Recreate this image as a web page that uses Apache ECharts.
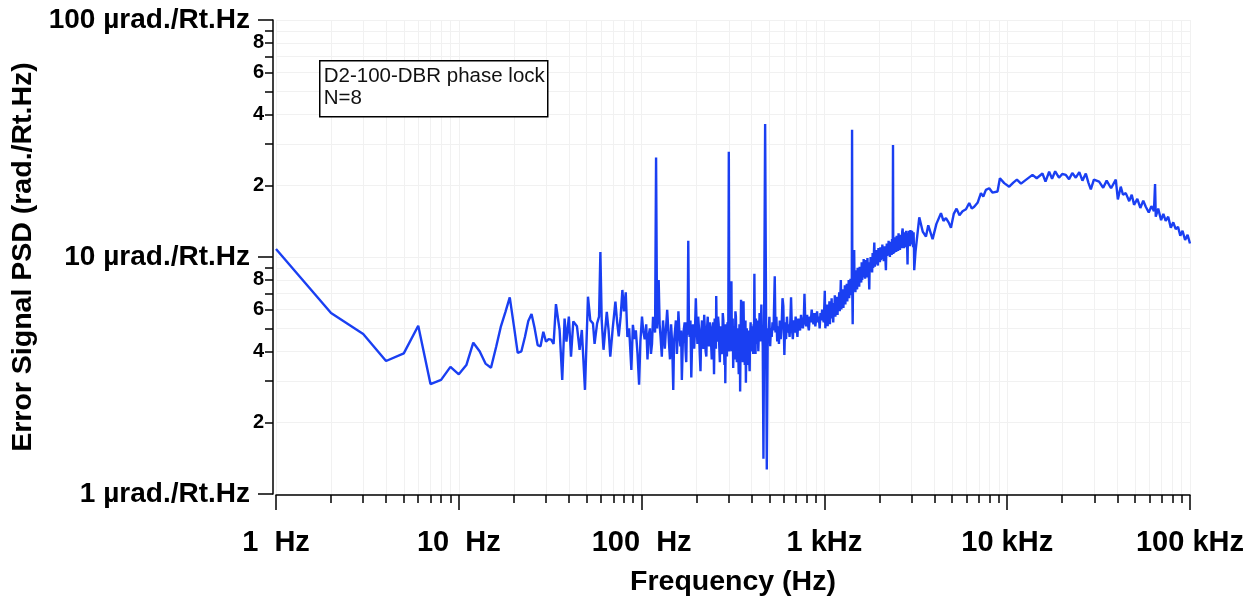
<!DOCTYPE html>
<html>
<head>
<meta charset="utf-8">
<script src="https://cdn.jsdelivr.net/npm/echarts@6/dist/echarts.min.js"></script>
<style>
html,body{margin:0;padding:0;background:#fff;}
#chart{width:1255px;height:603px;}
</style>
</head>
<body>
<div id="chart"></div>
<script>
// ---- data: [frequency (Hz), error signal PSD (µrad/√Hz)] ----
var lowBand = [
  [1,10.8],[2,5.8],[3,4.73],[4,3.64],[5,3.92],[6,5.13],[7,2.91],[8,3.03],[9,3.44],[10,3.2],
  [11,3.5],[12,4.35],[13,4.0],[14,3.55],[15,3.41],[16,4.17],[17,5.1],[18,5.87],[19,6.76],[20,5.15],
  [21,3.94],[22,4.0],[23,4.6],[24,5.37],[25,5.75]
];
var humBand = [
  [26,5.0],[27,4.25],[28,4.2],[29,4.84],[30,4.39],[31,4.5],[32,4.48],[33,4.3],[34,6.33],[35.6,4.92],
  [36.8,3.03],[37.9,5.5],[38.8,4.39],[40,5.6],[41.1,3.8],[42.3,5.35],[44.3,5.1],[45.8,4.06],[47.1,4.92],[49,2.75],
  [50.9,6.8],[52.4,5.4],[54.2,5.25],[55.3,4.3],[57.1,5.25],[58.5,5.6],[59.5,10.5],[60.5,5.4],[61.9,4.06],[63.2,4.9],
  [64.5,5.87],[66,4.9],[67.4,3.8],[69.5,5.0],[71.9,6.48],[73.5,5.3],[75,4.62],[76.8,5.6],[78.5,7.26],[80,5.9],
  [81.9,7.1],[83.6,4.6],[85.5,5.0],[87.9,3.34],[89.6,5.17],[91.5,4.5],[93,4.9],[95,3.9],[96.9,2.89],[98.5,4.4]
];
var lineBand = [
  [100.5,5.6],[102,4.9],[104,4.5],[106,5.2],[107.7,3.7],[109,4.6],[111,5.0],[112.5,3.9],[114,4.3],[115.5,5.6],
  [117,5.3],[118.5,4.8],[120,26.3],[121.5,5.0],[123,7.0],[124,8.0],[125.5,5.2],[127,4.6],[129,3.8],[131,5.4],
  [132.5,4.7],[134,4.1],[136,5.0],[138,5.98],[140,4.9],[141,4.4],[143,3.7],[145,5.2],[147,4.3],[149,2.75],
  [150.5,4.4],[152,4.8],[154,5.4],[156,3.9],[157.5,4.6],[159,5.9],[161,4.8],[163,4.2],[164.5,4.9],[166,3.03],
  [168,4.3],[170,4.9],[172,5.3],[174,4.0],[175.5,3.6],[177,5.3],[178.5,4.7],[180,11.7],[181.5,5.2],[183,4.6],
  [185,5.4],[187,3.1],[189,4.4],[191,5.2],[192.5,4.6],[194,4.1],[196,5.0],[198,6.7]
];
var denseBand = [
  [200,5.2],[202,4.3],[204,5.6],[206,5.0],[208,3.9],[210,3.3],[212,4.8],[214,5.4],[216,4.4],[218,4.1],
  [220,5.7],[222,4.9],[224,4.0],[226,3.8],[228,5.0],[230,5.6],[232,4.5],[234,4.2],[236,5.3],[238,5.0],
  [240,4.3],[242,3.7],[244,4.9],[246,5.3],[248,4.0],[249,3.2],[251,5.5],[253,4.8],[255,4.1],[256,6.85],
  [258,4.6],[260,4.4],[262,5.6],[264,5.2],[266,4.2],[268,3.6],[270,5.1],[272,4.9],[274,3.9],[276,4.0],
  [278,5.8],[280,5.4],[282,4.3],[284,3.5],[286,4.8],[287,2.93],[289,5.2],[291,4.7],[293,3.8],[295,5.3],
  [296,4.6],[298,5.0],[300,27.8],[302,4.0],[304,4.2],[306,5.4],[307,5.6],[309,4.2],[310,7.9],[312,4.0],
  [313,4.5],[315,5.5],[317,3.4],[319,4.6],[320,5.1],[322,3.7],[324,4.0],[326,5.9],[328,5.6],[330,4.3],
  [332,3.6],[334,5.0],[336,4.8],[338,3.9],[340,3.2],[342,4.5],[343,5.2],[345,4.1],[346,2.71],[348,4.6],
  [350,6.6],[352,4.8],[354,4.1],[356,5.1],[358,3.6],[360,4.4],[361,6.5],[363,4.7],[365,4.0],[367,3.5],
  [368,4.8],[370,5.4],[372,2.95],[374,4.2],[376,5.0],[378,4.4],[380,3.5],[383,4.9],[385,4.7],[387,3.8],
  [390,3.3],[392,4.6],[395,5.3],[397,4.3],[400,4.0],[403,5.1],[405,4.4],[408,3.9],[410,5.2],[412,4.6],
  [414,8.5],[416,5.0],[418,4.6],[420,3.9],[422,5.5],[425,4.8],[427,4.3],[430,5.4],[432,5.0],[435,4.0],
  [437,4.5],[440,5.1],[442,5.8],[445,4.4],[447,4.7],[450,5.3],[452,6.3],[455,4.6],[457,4.9],[460,4.2],
  [464,1.41],[474,36.4],[484,1.27],[490,5.0],[495,4.5]
];
var midBand = [
  [500,5.6],[505,4.2],[510,5.0],[515,4.6],[520,5.3],[527,4.9],[535,8.3],[540,4.8],[546,5.6],[552,4.4],
  [558,5.1],[564,4.3],[570,5.4],[577,4.5],[584,5.2],[590,6.7],[596,6.2],[604,3.86],[610,5.3],[617,4.5],
  [624,5.6],[631,4.8],[638,5.2],[645,4.6],[652,5.5],[657,6.76],[664,5.0],[672,4.5],[680,5.4],[688,4.8],
  [696,5.6],[704,5.0],[712,4.6],[720,5.5],[728,5.1],[736,4.9],[745,5.7],[754,5.2],[763,5.0],[772,5.6],
  [778,7.0],[786,5.3],[795,5.1],[804,5.7],[813,5.2],[822,4.9],[832,5.6],[842,5.3],[852,6.0],[862,5.4],
  [872,5.2],[882,5.8],[892,5.1],[902,5.5],[912,5.9],[922,5.3],[932,5.6],[942,5.0],[952,5.8],[962,5.4],
  [972,6.0],[982,5.5],[992,5.3]
];
var riseBand = [
  [1005,7.2],[1012,5.0],[1020,6.0],[1028,5.3],[1035,6.3],[1042,5.1],[1050,5.9],[1058,5.4],[1065,6.5],[1072,5.2],
  [1080,6.1],[1088,5.5],[1095,6.7],[1103,5.6],[1110,6.2],[1118,5.3],[1125,6.4],[1132,5.7],[1140,6.9],[1148,5.6],
  [1156,6.3],[1164,5.8],[1172,6.8],[1180,5.7],[1188,6.6],[1196,6.0],[1205,7.1],[1213,5.9],[1221,6.6],[1230,8.0],
  [1238,6.0],[1246,6.9],[1254,6.2],[1262,7.3],[1270,6.1],[1278,6.8],[1286,6.4],[1294,7.6],[1302,6.3],[1310,7.2],
  [1318,6.6],[1326,7.7],[1334,6.5],[1342,7.4],[1350,6.8],[1358,8.0],[1366,6.7],[1374,7.5],[1382,7.0],[1390,8.1],
  [1398,6.9],[1406,7.6],[1412,7.2],[1417,34.4],[1422,6.8],[1428,5.2],[1434,7.9],[1440,7.3],[1447,8.3],[1455,10.7],
  [1462,7.4],[1470,8.2],[1478,7.1],[1486,8.8],[1494,7.6],[1502,8.4],[1510,7.3],[1520,9.0],[1530,7.7],[1540,8.6],
  [1550,7.5],[1560,9.1],[1570,7.9],[1580,8.7],[1590,7.8],[1600,9.5],[1610,8.0],[1620,9.0],[1630,8.2],[1640,9.8],
  [1650,8.3],[1660,9.2],[1670,8.1],[1680,9.7],[1690,8.5],[1700,9.3],[1710,8.2],[1720,9.9],[1730,8.6],[1740,9.4],
  [1750,8.4],[1760,7.3],[1770,9.5],[1780,8.7],[1790,10.0],[1800,8.8],[1812,9.7],[1824,8.6],[1836,10.4],[1848,9.0],
  [1860,9.8],[1875,11.5],[1888,9.1],[1900,10.2],[1912,9.3],[1925,10.7],[1937,9.4],[1950,10.3],[1962,9.2],[1975,10.9],
  [1987,9.6],[2000,10.4],[2012,9.5],[2025,11.0],[2037,9.7],[2050,10.6],[2062,9.8],[2075,11.3],[2087,9.9],[2100,10.8],
  [2112,9.6],[2125,11.1],[2137,10.0],[2150,10.9],[2162,9.4],[2170,8.8],[2182,10.7],[2195,11.4],[2207,10.1],[2220,11.0],
  [2232,10.2],[2245,11.7],[2257,10.3],[2270,11.2],[2282,10.0],[2295,11.6],[2307,10.4],[2320,11.3],[2332,10.2],[2345,11.9],
  [2357,10.5],[2365,11.0],[2373,29.7],[2381,10.3],[2395,11.5],[2410,10.4],[2425,12.1],[2440,10.6],[2455,11.6],[2470,10.5],
  [2485,12.3],[2500,10.8],[2515,11.8],[2530,10.6],[2545,12.6],[2560,11.0],[2575,12.0],[2590,10.7],[2605,12.4],[2620,11.1],
  [2635,12.2],[2650,10.9],[2665,12.8],[2680,13.2],[2695,11.2],[2710,12.3],[2725,10.9],[2740,12.7],[2755,11.3],[2770,12.4],
  [2785,11.0],[2800,12.9],[2815,11.4],[2830,12.1],[2850,9.3],[2865,12.6],[2880,11.2],[2895,12.9],[2910,11.5],[2925,12.4],
  [2940,11.1],[2955,13.0],[2970,11.6],[2985,12.5],[3000,11.3],[3015,12.9],[3030,11.7],[3045,12.3],[3060,11.0],[3075,12.7],
  [3090,10.8],[3100,8.8]
];
var highBand = [
  [3150,10.5],[3304,14.7],[3450,12.8],[3594,12.2],[3700,13.6],[3907,11.9],[4100,13.8],[4342,15.3],[4480,14.2],[4624,14.6],
  [4780,14.0],[4924,13.3],[5100,15.2],[5284,16.0],[5480,15.0],[5698,15.6],[5950,15.9],[6199,16.9],[6400,16.0],[6601,16.3],
  [6900,17.0],[7182,18.6],[7400,18.0],[7648,19.2],[7973,19.5],[8300,18.7],[8851,18.9],[9124,21.5],[9630,20.5],[10257,19.8],
  [10800,20.6],[11300,21.2],[11900,20.4],[12600,21.1],[13750,22.2],[14500,21.5],[15590,22.5],[16200,20.8],[16960,22.9],[17600,21.4],
  [18300,23.0],[19200,21.6],[20000,22.4],[20930,22.2],[21800,21.3],[22700,22.6],[23730,21.6],[24800,22.8],[25800,21.0],[26920,22.5],
  [27800,20.6],[28670,19.3],[29800,21.2],[31820,20.8],[33500,19.6],[35000,21.0],[37000,19.5],[39270,21.2],[40300,17.5],[41800,19.8],
  [43000,18.3],[44530,18.6],[46500,17.2],[48000,18.3],[49430,16.6],[51500,17.6],[53500,16.1],[55500,17.3],[57280,16.3],[59500,15.4],
  [61500,16.4],[63500,15.6],[64390,20.3],[64970,14.8],[67000,16.0],[69500,14.3],[71500,15.2],[73620,14.2],[76000,14.8],[78500,13.3],
  [81000,14.0],[83530,13.1],[86000,13.4],[88500,12.3],[91000,12.9],[94000,11.8],[97000,12.4],[100000,11.4]
];

// ---- axis ticks / labels ----
var xMajorTicks = [1, 10, 100, 1000, 10000, 100000];
var xMajorLabels = ['1  Hz', '10  Hz', '100  Hz', '1 kHz', '10 kHz', '100 kHz'];
var xMinorTicks = [2,3,4,5,6,7,8,9,20,30,40,50,60,70,80,90,200,300,400,500,600,700,800,900,
  2000,3000,4000,5000,6000,7000,8000,9000,20000,30000,40000,50000,60000,70000,80000,90000];
var yMajorTicks = [1, 10, 100];
var yMajorLabels = ['1 µrad./Rt.Hz', '10 µrad./Rt.Hz', '100 µrad./Rt.Hz'];
var yMinorTicks = [2,3,4,5,6,7,8,9,20,30,40,50,60,70,80,90];
var yMinorLabelValues = [2,4,6,8,20,40,60,80];
var yMinorLabels = ['2','4','6','8','2','4','6','8'];

var FONT = 'Liberation Sans, Arial, sans-serif';
var gridColor = '#f1f1f1';

var psd = [].concat(lowBand, humBand, lineBand, denseBand, midBand, riseBand, highBand);

var chart = echarts.init(document.getElementById('chart'), null, {renderer: 'canvas'});
chart.setOption({
  backgroundColor: '#fff',
  animation: false,
  grid: {left: 276, right: 65, top: 20, bottom: 109, containLabel: false},
  xAxis: [
    {
      type: 'log', logBase: 10, min: 1, max: 100000, position: 'bottom', offset: 1,
      name: 'Frequency (Hz)', nameLocation: 'middle', nameGap: 73,
      nameTextStyle: {fontFamily: FONT, fontSize: 28.5, fontWeight: 'bold', color: '#000'},
      axisLine: {show: true, lineStyle: {color: '#000', width: 1.5}},
      axisTick: {show: true, inside: false, length: 15, customValues: xMajorTicks, lineStyle: {color: '#000', width: 1.5}},
      axisLabel: {
        show: true, customValues: xMajorTicks, margin: 33,
        fontFamily: FONT, fontSize: 29, fontWeight: 'bold', color: '#000',
        formatter: function (v) { var i = xMajorTicks.indexOf(Math.round(v)); return i >= 0 ? xMajorLabels[i] : ''; }
      },
      splitLine: {show: true, lineStyle: {color: gridColor, width: 1}}
    },
    {
      type: 'log', logBase: 10, min: 1, max: 100000, position: 'bottom', offset: 1,
      axisLine: {show: false},
      axisTick: {show: true, inside: false, length: 8, customValues: xMinorTicks, lineStyle: {color: '#000', width: 1.5}},
      axisLabel: {show: false},
      splitLine: {show: true, lineStyle: {color: gridColor, width: 1}}
    }
  ],
  yAxis: [
    {
      type: 'log', logBase: 10, min: 1, max: 100, position: 'left', offset: 3,
      name: 'Error Signal PSD (rad./Rt.Hz)', nameLocation: 'middle', nameGap: 229,
      nameTextStyle: {fontFamily: FONT, fontSize: 28.5, fontWeight: 'bold', color: '#000'},
      axisLine: {show: true, lineStyle: {color: '#000', width: 1.5}},
      axisTick: {show: true, inside: false, length: 15, customValues: yMajorTicks, lineStyle: {color: '#000', width: 1.5}},
      axisLabel: {
        show: true, customValues: yMajorTicks, margin: 23,
        fontFamily: FONT, fontSize: 28, fontWeight: 'bold', color: '#000',
        formatter: function (v) { var i = yMajorTicks.indexOf(Math.round(v)); return i >= 0 ? yMajorLabels[i] : ''; }
      },
      splitLine: {show: true, lineStyle: {color: gridColor, width: 1}}
    },
    {
      type: 'log', logBase: 10, min: 1, max: 100, position: 'left', offset: 3,
      axisLine: {show: false},
      axisTick: {show: true, inside: false, length: 8, customValues: yMinorTicks, lineStyle: {color: '#000', width: 1.5}},
      axisLabel: {
        show: true, customValues: yMinorLabelValues, margin: 9,
        fontFamily: FONT, fontSize: 20, fontWeight: 'bold', color: '#000',
        formatter: function (v) { var i = yMinorLabelValues.indexOf(Math.round(v)); return i >= 0 ? yMinorLabels[i] : ''; }
      },
      splitLine: {show: true, lineStyle: {color: gridColor, width: 1}}
    }
  ],
  graphic: [
    {
      type: 'group', left: 319, top: 60, z: 100,
      children: [
        {type: 'rect', z: 100, shape: {x: 0, y: 0, width: 228, height: 56}, style: {fill: '#fff', stroke: '#000', lineWidth: 1.5}},
        {type: 'text', z: 101, x: 4, y: 5, style: {text: 'D2-100-DBR phase lock\nN=8', fontFamily: FONT, fontSize: 20.5, lineHeight: 22, fill: '#111'}}
      ]
    }
  ],
  series: [
    {
      type: 'line', xAxisIndex: 0, yAxisIndex: 0, data: psd,
      showSymbol: false, symbol: 'none', smooth: false,
      lineStyle: {color: '#1a3ff2', width: 2.4},
      z: 5
    }
  ]
});
</script>
</body>
</html>
